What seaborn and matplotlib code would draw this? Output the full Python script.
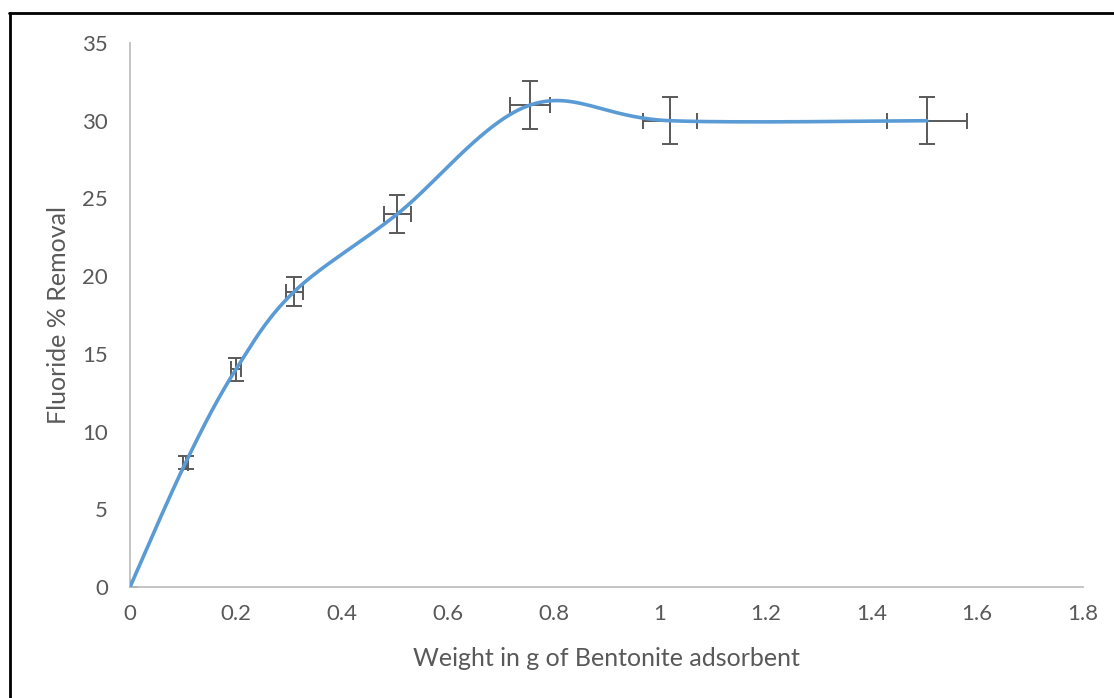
import numpy as np
import pandas as pd
import matplotlib
matplotlib.use("Agg")
import matplotlib.pyplot as plt
import seaborn as sns
from matplotlib.lines import Line2D

# Data
weight_g = [0.0, 0.105, 0.2, 0.31, 0.505, 0.755, 1.02, 1.505]
removal_pct = [0.0, 8.0, 14.0, 19.0, 24.0, 31.0, 30.0, 30.0]
x_err = [0.0, 0.005, 0.01, 0.016, 0.026, 0.038, 0.051, 0.076]
y_err = [0.0, 0.42, 0.75, 0.95, 1.2, 1.55, 1.5, 1.5]

x_ticks = [0, 0.2, 0.4, 0.6, 0.8, 1, 1.2, 1.4, 1.6, 1.8]
x_tick_labels = ["0", "0.2", "0.4", "0.6", "0.8", "1", "1.2", "1.4", "1.6", "1.8"]
y_ticks = [0, 5, 10, 15, 20, 25, 30, 35]


def smooth_curve(xs, ys, n=60):
    """Excel-style smoothed line (Catmull-Rom Bezier through the data points)."""
    P = np.column_stack([xs, ys]).astype(float)
    Pe = np.vstack([P[0], P, P[-1]])
    out = []
    for i in range(len(P) - 1):
        p0, p1, p2, p3 = Pe[i], Pe[i + 1], Pe[i + 2], Pe[i + 3]
        b0 = p1
        b1 = p1 + (p2 - p0) / 6.0
        b2 = p2 - (p3 - p1) / 6.0
        b3 = p2
        t = np.linspace(0, 1, n)[:, None]
        seg = ((1 - t) ** 3) * b0 + 3 * ((1 - t) ** 2) * t * b1 + 3 * (1 - t) * t ** 2 * b2 + t ** 3 * b3
        out.append(seg if i == 0 else seg[1:])
    return np.vstack(out)


sns.set_theme(style="white")
plt.rcParams["font.family"] = ["Lato", "DejaVu Sans"]

fig = plt.figure(figsize=(11.14, 6.98), dpi=100)
ax = fig.add_axes([130 / 1114, 1 - 587 / 698, (1083 - 130) / 1114, (587 - 43) / 698])

curve = smooth_curve(weight_g, removal_pct)
df_curve = pd.DataFrame({"x": curve[:, 0], "y": curve[:, 1], "order": np.arange(len(curve))})

ax.errorbar(weight_g, removal_pct, xerr=x_err, yerr=y_err, fmt="none",
            ecolor="#595959", elinewidth=1.4, capsize=5.5, capthick=1.4, zorder=2)
sns.lineplot(data=df_curve, x="x", y="y", sort=False, ax=ax, color="#5B9BD5",
             linewidth=2.6, zorder=3, estimator=None)

ax.set_xlim(0, 1.8)
ax.set_ylim(0, 35)
ax.set_xticks(x_ticks)
ax.set_xticklabels(x_tick_labels)
ax.set_yticks(y_ticks)
ax.tick_params(axis="both", length=0, labelsize=16, labelcolor="#595959")
ax.tick_params(axis="y", pad=16)
ax.tick_params(axis="x", pad=12)

for s in ["top", "right"]:
    ax.spines[s].set_visible(False)
for s in ["left", "bottom"]:
    ax.spines[s].set_color("#BFBFBF")
    ax.spines[s].set_linewidth(1.3)

ax.set_xlabel("Weight in g of Bentonite adsorbent", fontsize=18, color="#595959", labelpad=17)
ax.set_ylabel("Fluoride % Removal", fontsize=18, color="#595959", labelpad=9)

# outer frame (left and top edges visible in the reference)
fig.add_artist(Line2D([10 / 1114, 10 / 1114], [0, 1 - 13 / 698], color="black", lw=2,
                      transform=fig.transFigure))
fig.add_artist(Line2D([9 / 1114, 1], [1 - 13 / 698, 1 - 13 / 698], color="black", lw=2,
                      transform=fig.transFigure))

fig.savefig("out.png", dpi=100)
